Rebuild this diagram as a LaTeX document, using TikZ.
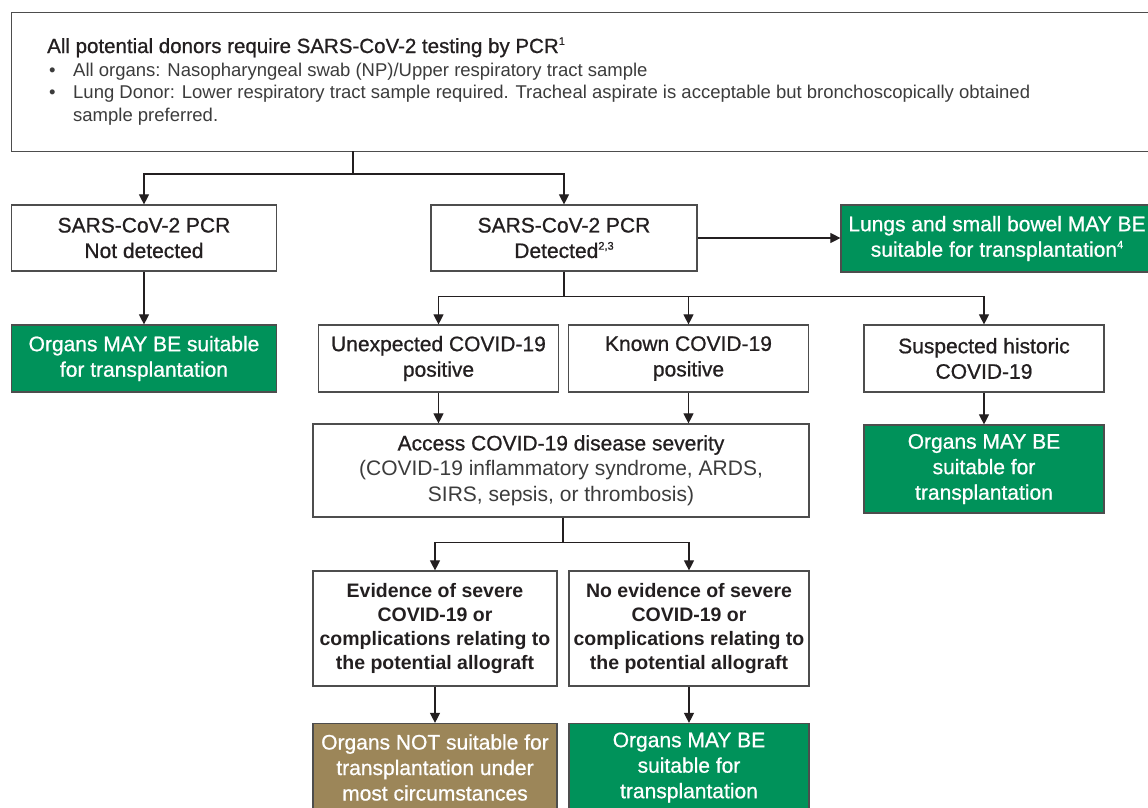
\documentclass[tikz,border=0pt]{standalone}
\usepackage{fontspec}
\setmainfont{Liberation Sans}
\newfontfamily\medf[FakeBold=0.8]{Liberation Sans}
\usetikzlibrary{arrows.meta,calc}
\definecolor{ngreen}{HTML}{00925A}
\definecolor{nbrown}{HTML}{9C8659}
\definecolor{bordc}{HTML}{4D4D4D}
\definecolor{txtc}{HTML}{231F20}
\definecolor{lightc}{HTML}{3C3C3C}
\newcommand{\supr}[1]{\raisebox{0.75ex}{\fontsize{11}{11}\selectfont #1}}
\tikzset{
  box/.style={draw=bordc, line width=1.2pt, fill=white, align=center, text=txtc,
    inner sep=1pt, font=\medf\fontsize{21}{25.5}\selectfont},
  boldbox/.style={box, font=\bfseries\fontsize{19.5}{24}\selectfont},
  gbox/.style={box, fill=ngreen, text=white},
  bbox/.style={box, fill=nbrown, text=white},
  arr/.style={draw=txtc, line width=1.1pt, -{Triangle[width=10pt,length=10pt]}},
  toptext/.style={anchor=base west, inner sep=0pt, text=lightc, font=\fontsize{18.5}{22}\selectfont}
}
\begin{document}
\begin{tikzpicture}[x=1pt,y=-1pt]
\clip (0,0) rectangle (1148,807);
\fill[white] (0,0) rectangle (1148,807);
% top box
\node[draw=bordc, line width=1.2pt, minimum width=1150pt, minimum height=139pt, anchor=north west, inner sep=0pt] (top) at (11,12) {};
\node[anchor=base west, inner sep=0pt, text=txtc, font=\medf\fontsize{20.5}{24}\selectfont] (ttl) at (47,53) {All potential donors require SARS-CoV-2 testing by PCR\supr{1}};
\node[toptext] (bu1) at (49,76) {\textbullet};
\node[toptext] (tx1) at (73,76) {All organs: Nasopharyngeal swab (NP)/Upper respiratory tract sample};
\node[toptext] (bu2) at (49,98.5) {\textbullet};
\node[toptext] (tx2) at (73,98.5) {Lung Donor: Lower respiratory tract sample required. Tracheal aspirate is acceptable but bronchoscopically obtained};
\node[toptext] (tx3) at (73,121) {sample preferred.};
% level 1
\node[box, minimum width=265pt, minimum height=66pt] (nd) at (144,238) {SARS-CoV-2 PCR\\Not detected};
\node[box, minimum width=266pt, minimum height=66pt] (det) at (564,238) {SARS-CoV-2 PCR\\Detected\supr{2,3}};
\node[gbox, minimum width=312pt, minimum height=67pt] (lung) at (997,238.5) {Lungs and small bowel MAY BE\\suitable for transplantation\supr{4}};
% level 2
\node[gbox, minimum width=265pt, minimum height=67pt] (g1) at (144,358.5) {Organs MAY BE suitable\\for transplantation};
\node[box, minimum width=240pt, minimum height=67pt] (unexp) at (438.5,358.5) {Unexpected COVID-19\\positive};
\node[box, minimum width=240pt, minimum height=67pt] (known) at (688.5,358.5) {Known COVID-19\\positive};
\node[box, minimum width=240pt, minimum height=67pt] (susp) at (984,358.5) {Suspected historic\\COVID-19};
% level 3
\node[box, minimum width=496pt, minimum height=93pt] (access) at (561,470.5) {Access COVID-19 disease severity\\{\fontspec{Liberation Sans}\color{lightc}(COVID-19 inflammatory syndrome, ARDS,}\\{\fontspec{Liberation Sans}\color{lightc}SIRS, sepsis, or thrombosis)}};
\node[gbox, minimum width=240pt, minimum height=88pt] (g2) at (984,469) {Organs MAY BE\\suitable for\\transplantation};
% level 4
\node[boldbox, minimum width=244pt, minimum height=115pt] (ev) at (435,628.5) {Evidence of severe\\COVID-19 or\\complications relating to\\the potential allograft};
\node[boldbox, minimum width=240pt, minimum height=115pt] (noev) at (689,628.5) {No evidence of severe\\COVID-19 or\\complications relating to\\the potential allograft};
% level 5
\node[bbox, minimum width=244pt, minimum height=88pt] (brown) at (435,767.5) {Organs NOT suitable for\\transplantation under\\most circumstances};
\node[gbox, minimum width=240pt, minimum height=88pt] (g3) at (689,767.5) {Organs MAY BE\\suitable for\\transplantation};
% connectors
\coordinate (s0) at (353,151);
\draw[arr] (s0) -- ++(0,23) -| (nd.north);
\draw[arr] (s0) -- ++(0,23) -| (det.north);
\draw[arr] (det.east) -- (det.east -| lung.west);
\draw[arr] (nd.south) -- (g1.north);
\draw[arr] (det.south) -- ++(0,25) -| (unexp.north);
\draw[arr] (det.south) -- ++(0,25) -| (known.north);
\draw[arr] (det.south) -- ++(0,25) -| (susp.north);
\draw[arr] (unexp.south) -- (unexp.south |- access.north);
\draw[arr] (known.south) -- (known.south |- access.north);
\draw[arr] (susp.south) -- (g2.north);
\coordinate (s1) at ($(access.south)+(2,0)$);
\draw[arr] (s1) -- ++(0,25) -| (ev.north);
\draw[arr] (s1) -- ++(0,25) -| (noev.north);
\draw[arr] (ev.south) -- (brown.north);
\draw[arr] (noev.south) -- (g3.north);
\end{tikzpicture}
\end{document}
